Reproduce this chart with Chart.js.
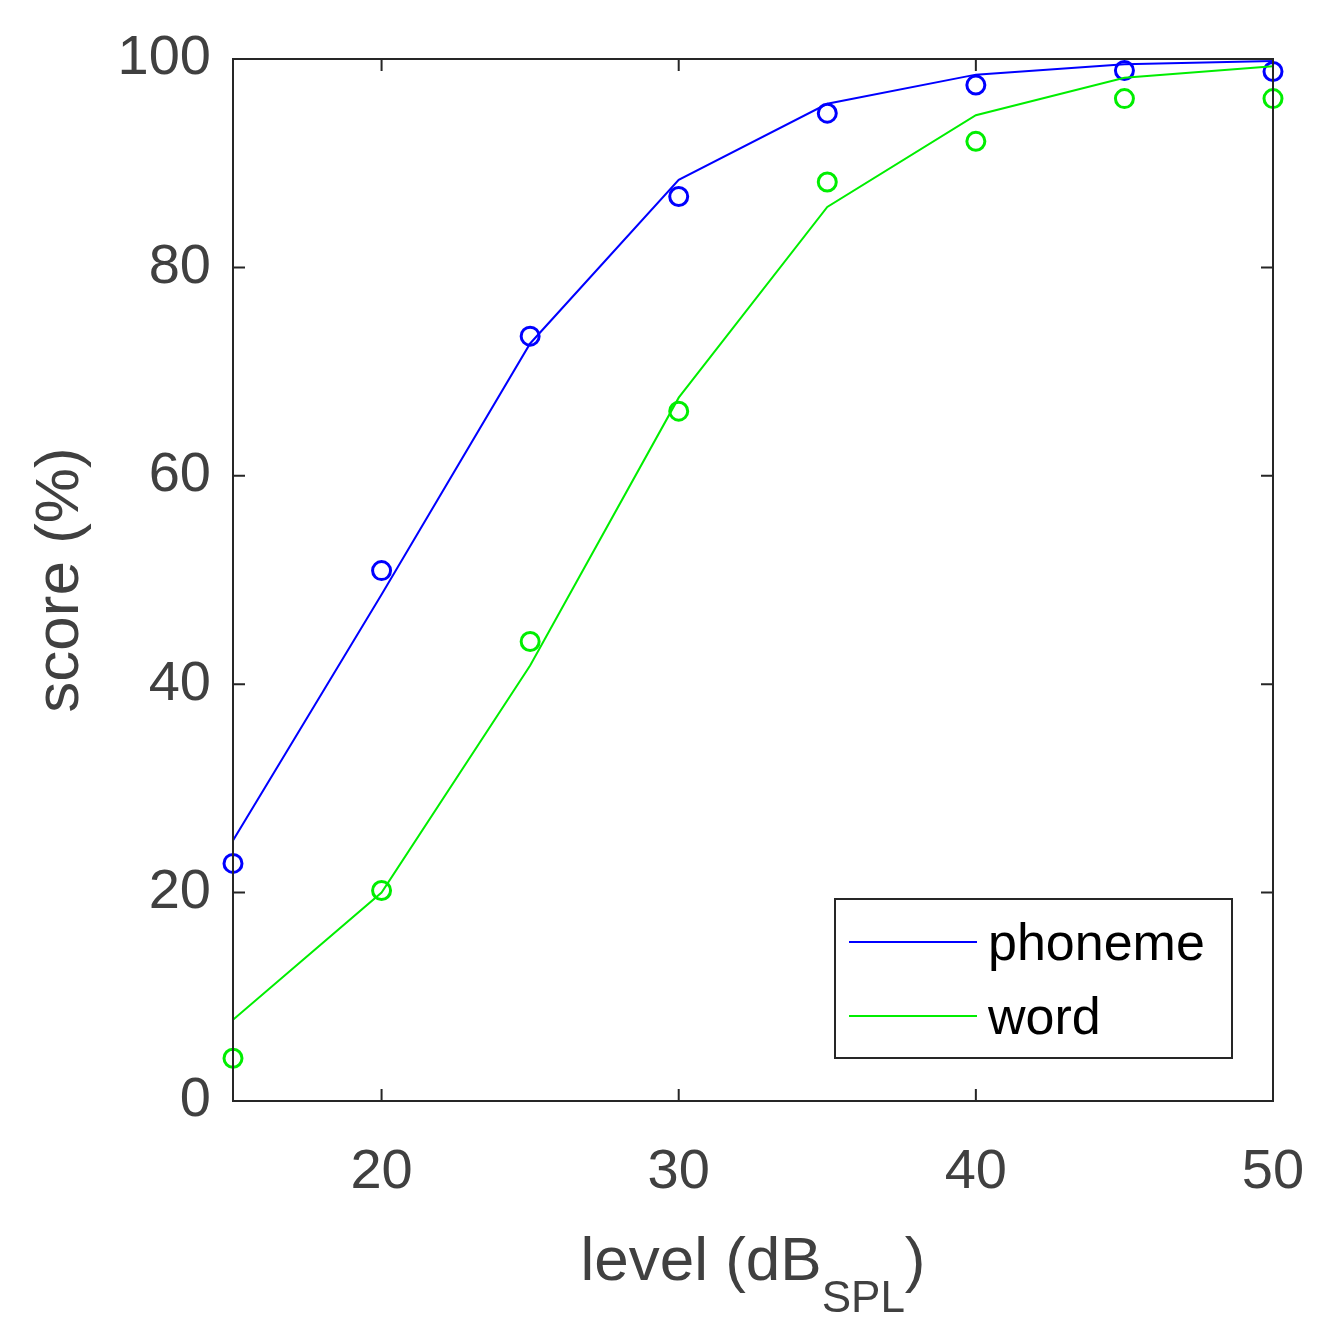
<!DOCTYPE html>
<html><head><meta charset="utf-8">
<script src="https://cdn.jsdelivr.net/npm/chart.js@4.4.1/dist/chart.umd.min.js"></script>
<style>html,body{margin:0;background:#fff}#wrap{width:1335px;height:1339px}</style>
</head><body><div id="wrap"><canvas id="c"></canvas></div>
<script>
const levels = [15, 20, 25, 30, 35, 40, 45, 50];
const phonemeObs = [22.8, 50.9, 73.4, 86.8, 94.8, 97.5, 98.9, 98.8];
const phonemeFit = [25.0, 48.6, 72.7, 88.4, 95.7, 98.5, 99.5, 99.8];
const wordObs = [4.1, 20.2, 44.1, 66.2, 88.2, 92.1, 96.2, 96.2];
const wordFit = [7.8, 20.0, 41.8, 67.5, 85.8, 94.6, 98.2, 99.3];
const xTicks = [20, 30, 40, 50];
const yTicks = [0, 20, 40, 60, 80, 100];

const BLUE = "#0000ff", GREEN = "#00ee00", TXT = "#404040";
const FONT = "Arial, 'Liberation Sans', sans-serif";
const pts = function (ys) { return levels.map(function (x, i) { return { x: x, y: ys[i] }; }); };

const decor = {
  id: "decor",
  afterDraw: function (chart) {
    const ctx = chart.ctx, a = chart.chartArea;
    const xs = chart.scales.x, ys = chart.scales.y;
    ctx.save();
    ctx.strokeStyle = "#262626"; ctx.lineWidth = 2;
    ctx.strokeRect(a.left, a.top, a.right - a.left, a.bottom - a.top);
    const L = 12;
    ctx.beginPath();
    xTicks.forEach(function (v) {
      const p = xs.getPixelForValue(v);
      ctx.moveTo(p, a.bottom); ctx.lineTo(p, a.bottom - L);
      ctx.moveTo(p, a.top); ctx.lineTo(p, a.top + L);
    });
    yTicks.forEach(function (v) {
      const p = ys.getPixelForValue(v);
      ctx.moveTo(a.left, p); ctx.lineTo(a.left + L, p);
      ctx.moveTo(a.right, p); ctx.lineTo(a.right - L, p);
    });
    ctx.stroke();
    // axis titles
    ctx.fillStyle = TXT;
    ctx.textBaseline = "alphabetic";
    const t1 = "level (dB", t2 = "SPL", t3 = ")";
    ctx.font = "62px " + FONT; const w1 = ctx.measureText(t1).width, w3 = ctx.measureText(t3).width;
    ctx.font = "44px " + FONT; const w2 = ctx.measureText(t2).width;
    let x0 = (a.left + a.right) / 2 - (w1 + w2 + w3) / 2;
    ctx.font = "62px " + FONT; ctx.fillText(t1, x0, 1280);
    ctx.font = "44px " + FONT; ctx.fillText(t2, x0 + w1, 1312);
    ctx.font = "62px " + FONT; ctx.fillText(t3, x0 + w1 + w2, 1280);
    ctx.translate(78, (a.top + a.bottom) / 2);
    ctx.rotate(-Math.PI / 2);
    ctx.textAlign = "center";
    ctx.fillText("score (%)", 0, 0);
    ctx.restore();
    // legend
    ctx.save();
    ctx.fillStyle = "#fff";
    ctx.fillRect(835, 899, 397, 159);
    ctx.strokeStyle = "#262626"; ctx.lineWidth = 2;
    ctx.strokeRect(835, 899, 397, 159);
    ctx.strokeStyle = BLUE; ctx.beginPath(); ctx.moveTo(849, 942); ctx.lineTo(977, 942); ctx.stroke();
    ctx.strokeStyle = GREEN; ctx.beginPath(); ctx.moveTo(849, 1016); ctx.lineTo(977, 1016); ctx.stroke();
    ctx.fillStyle = "#000"; ctx.font = "52px " + FONT; ctx.textBaseline = "middle";
    ctx.fillText("phoneme", 988, 946);
    ctx.fillText("word", 988, 1020);
    ctx.restore();
  }
};

const lineDs = function (data, c) {
  return { type: "line", data: pts(data), borderColor: c, borderWidth: 2, pointRadius: 0, fill: false, tension: 0 };
};
const dotDs = function (data, c) {
  return { type: "scatter", data: pts(data), borderColor: c, backgroundColor: "transparent", borderWidth: 3, pointRadius: 9, clip: false };
};

new Chart(document.getElementById("c"), {
  data: { datasets: [lineDs(phonemeFit, BLUE), lineDs(wordFit, GREEN), dotDs(phonemeObs, BLUE), dotDs(wordObs, GREEN)] },
  options: {
    responsive: true, maintainAspectRatio: false, animation: false,
    layout: { padding: { top: 59, right: 62, left: 0, bottom: 0 } },
    plugins: { legend: { display: false }, tooltip: { enabled: false } },
    scales: {
      x: {
        type: "linear", min: 15, max: 50,
        afterBuildTicks: function (s) { s.ticks = xTicks.map(function (v) { return { value: v }; }); },
        afterFit: function (s) { s.height = 238; },
        grid: { display: false }, border: { display: false },
        ticks: { color: TXT, font: { size: 56, family: FONT }, padding: 30, maxRotation: 0 }
      },
      y: {
        min: 0, max: 100,
        afterBuildTicks: function (s) { s.ticks = yTicks.map(function (v) { return { value: v }; }); },
        afterFit: function (s) { s.width = 233; },
        grid: { display: false }, border: { display: false },
        ticks: { color: TXT, font: { size: 56, family: FONT }, padding: 14 }
      }
    }
  },
  plugins: [decor]
});
</script></body></html>
